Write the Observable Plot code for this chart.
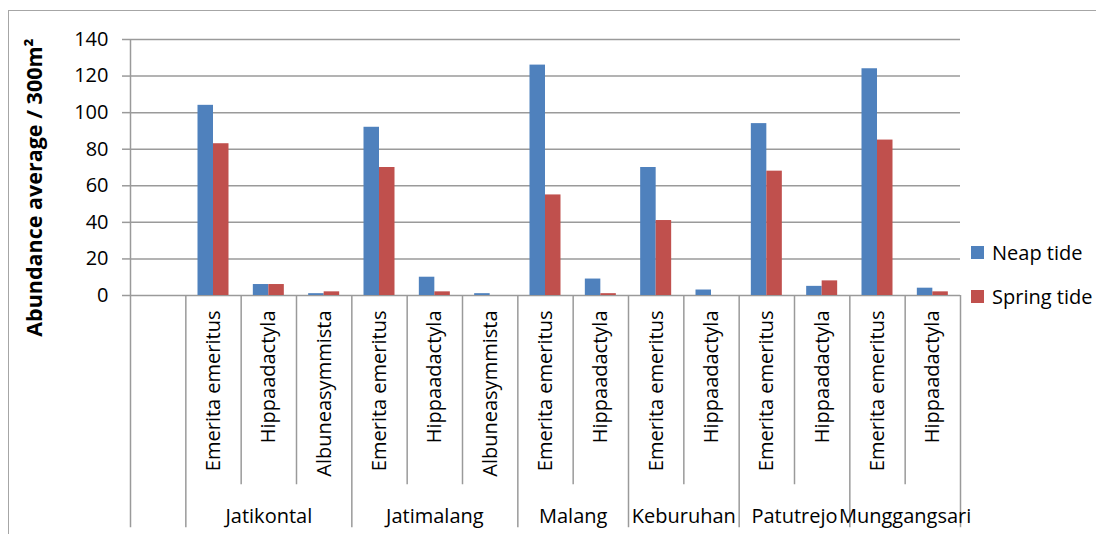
<!DOCTYPE html>
<html>
<head>
<meta charset="utf-8">
<script src="https://cdn.jsdelivr.net/npm/d3@7"></script>
<script src="https://cdn.jsdelivr.net/npm/@observablehq/plot@0.6"></script>
<style>
  html, body { margin: 0; padding: 0; background: #fff; overflow: hidden; }
  #wrap { position: relative; width: 1096px; height: 534px; overflow: hidden; font-family: "Open Sans", sans-serif; }
  #frame { position: absolute; left: 8px; top: 10px; width: 1200px; height: 700px; border: 1.5px solid #a6a6a6; box-sizing: border-box; }
  #chart { position: absolute; left: 0; top: 0; }
  .leg { position: absolute; left: 971px; display: flex; align-items: center; font-size: 20px; color: #000; white-space: nowrap; }
  .leg .sw { width: 13px; height: 13px; margin-right: 8px; }
</style>
</head>
<body>
<div id="wrap">
  <div id="frame"></div>
  <div id="chart"></div>
  <div class="leg" style="top:239px"><div class="sw" style="background:#4F81BD"></div><span>Neap tide</span></div>
  <div class="leg" style="top:283px"><div class="sw" style="background:#C0504D"></div><span>Spring tide</span></div>
</div>
<script>
// Category slots (first slot is the empty leading category of the original chart)
const slotSite = ["", "Jatikontal", "Jatikontal", "Jatikontal", "Jatimalang", "Jatimalang", "Jatimalang",
  "Malang", "Malang", "Keburuhan", "Keburuhan", "Patutrejo", "Patutrejo", "Munggangsari", "Munggangsari"];
const slotSpecies = ["", "Emerita emeritus", "Hippaadactyla", "Albuneasymmista", "Emerita emeritus", "Hippaadactyla", "Albuneasymmista",
  "Emerita emeritus", "Hippaadactyla", "Emerita emeritus", "Hippaadactyla", "Emerita emeritus", "Hippaadactyla", "Emerita emeritus", "Hippaadactyla"];
const neapTide   = [null, 104, 6, 1, 92, 10, 1, 126, 9, 70, 3, 94, 5, 124, 4];
const springTide = [null, 83, 6, 2, 70, 2, 0, 55, 1, 41, 0, 68, 8, 85, 2];
const yTicks = [0, 20, 40, 60, 80, 100, 120, 140];
const sites = ["Jatikontal", "Jatimalang", "Malang", "Keburuhan", "Patutrejo", "Munggangsari"];
const yTitle = "Abundance average / 300m\u00B2";

const slots = slotSite.map((s, i) => ({i, site: s, species: slotSpecies[i], neap: neapTide[i], spring: springTide[i]}));
const barData = slots.filter(d => d.neap != null);
const nSlots = slots.length;
const boundaries = d3.range(nSlots + 1).map(i => ({
  i,
  first: i === 0,
  group: i === 0 || i === nSlots || slotSite[i] !== slotSite[i - 1]
}));
const groups = sites.map(s => {
  const idx = slots.filter(d => d.site === s).map(d => d.i);
  return {site: s, c: (d3.min(idx) + d3.max(idx) + 1) / 2};
});

const W = 1096, H = 534, mL = 130, mR = 136, mT = 39, mB = 239;
const slotW = (W - mL - mR) / nSlots;
const barW = 15.5;
const grid = "#9a9a9a";

const chart = Plot.plot({
  width: W, height: H,
  marginLeft: mL, marginRight: mR, marginTop: mT, marginBottom: mB,
  style: {fontFamily: "'Open Sans', sans-serif", fontSize: "20px", color: "#000", background: "transparent"},
  x: {type: "linear", domain: [0, nSlots], axis: null},
  y: {domain: [0, 140], axis: null},
  marks: [
    Plot.ruleY(yTicks, {y: d => d, stroke: grid, strokeWidth: 1.5}),
    Plot.axisY(yTicks, {anchor: "left", tickSize: 8, tickPadding: 14, stroke: grid, strokeWidth: 1.5, fill: "#000", fontSize: 20, label: null}),
    Plot.ruleX(boundaries, {
      x: "i",
      y1: d => d.first ? 140 : 0,
      y2: d => d.group ? -127 : -103.5,
      stroke: grid, strokeWidth: 1.5
    }),
    Plot.rectY(barData, {x1: "i", x2: d => d.i + 1, y: "neap", fill: "#4F81BD",
      insetLeft: slotW / 2 - barW, insetRight: slotW / 2}),
    Plot.rectY(barData, {x1: "i", x2: d => d.i + 1, y: "spring", fill: "#C0504D",
      insetLeft: slotW / 2, insetRight: slotW / 2 - barW}),
    Plot.text(barData, {x: d => d.i + 0.5, y: 0, text: "species", rotate: -90, textAnchor: "end", dy: 15, fontSize: 20, fill: "#000"}),
    Plot.text(groups, {x: "c", y: 0, text: "site", dy: 221, fontSize: 20, fill: "#000"}),
    Plot.text([yTitle], {frameAnchor: "left", text: d => d, rotate: -90, textAnchor: "middle", dx: -95, dy: 20, fontWeight: "bold", fontSize: 21.5, fill: "#000"})
  ]
});
document.getElementById("chart").appendChild(chart);
</script>
</body>
</html>
